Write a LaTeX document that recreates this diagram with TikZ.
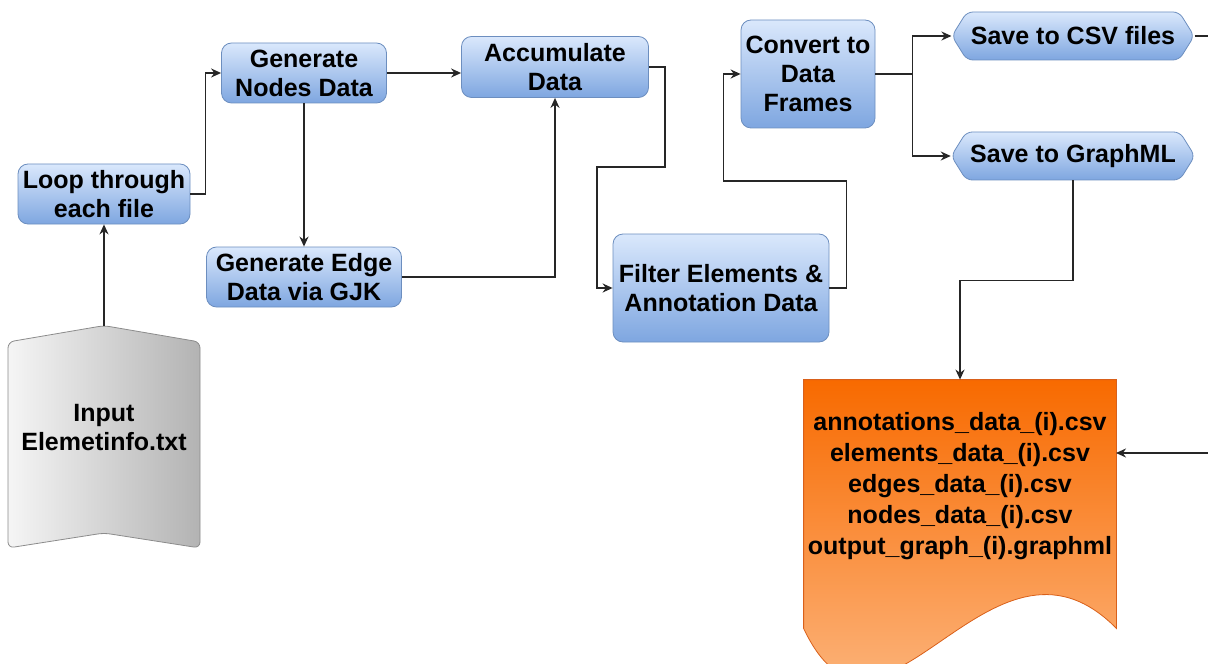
\documentclass[tikz,border=0pt]{standalone}
\usepackage{fontspec}
\setmainfont{Liberation Sans}
\usepackage{xcolor}
\usetikzlibrary{arrows.meta,shapes.symbols}
\definecolor{cBoxTop}{HTML}{DAE8FC}
\definecolor{cBoxBot}{HTML}{7EA6E0}
\definecolor{cBoxBorder}{HTML}{6C8EBF}
\definecolor{cInLeft}{HTML}{F5F5F5}
\definecolor{cInRight}{HTML}{B3B3B3}
\definecolor{cInBorder}{HTML}{8C8C8C}
\definecolor{cDocTop}{HTML}{F86A00}
\definecolor{cDocBot}{HTML}{FDCBA2}
\definecolor{cDocBorder}{HTML}{D9601A}

\begin{document}
\begin{tikzpicture}[
  x=0.5pt, y=-0.5pt,
  every node/.style={font=\bfseries\fontsize{12.5}{14.5}\selectfont},
  procbox/.style={draw=cBoxBorder, top color=cBoxTop, bottom color=cBoxBot, rounded corners=5pt,
               align=center, inner sep=0pt},
  savebox/.style={draw=cBoxBorder, top color=cBoxTop, bottom color=cBoxBot, rounded corners=3pt,
               shape=signal, signal to=west and east, signal pointer angle=116,
               minimum height=24pt, inner xsep=2pt, inner ysep=0pt, align=center},
  arr/.style={-{Stealth[length=5pt,width=4.5pt]}, line width=0.8pt, black!85},
]
  \useasboundingbox (0,0) rectangle (1208,663);

  \node[minimum width=96pt, minimum height=111pt, align=center] (inp) at (104,437) {};
  \shade[left color=cInLeft, right color=cInRight, draw=cInBorder, rounded corners=3pt]
    (8,342) -- (inp.north) -- (200,342) -- (200,548) -- (104,533) -- (8,548) -- cycle;
  \node[align=center] (inptxt) at (104,428) {Input\\Elemetinfo.txt};

  \node[procbox, minimum width=86pt, minimum height=30pt] (loop) at (104,194) {Loop through\\each file};
  \node[procbox, minimum width=82.5pt, minimum height=30pt] (gnodes) at (304,73) {Generate\\Nodes Data};
  \node[procbox, minimum width=97.5pt, minimum height=30pt] (gedge) at (304,277) {Generate Edge\\Data via GJK};
  \node[procbox, minimum width=93.5pt, minimum height=30.5pt] (accum) at (555,67) {Accumulate\\Data};
  \node[procbox, minimum width=108pt, minimum height=54pt] (filter) at (721,288) {Filter Elements \&\\Annotation Data};
  \node[procbox, minimum width=67pt, minimum height=54pt] (conv) at (808,74) {Convert to\\Data\\Frames};

  \node[savebox, minimum width=104pt] (csv) at (1073,36) {Save to CSV files};
  \node[savebox, minimum width=104pt] (gml) at (1073,156) {Save to GraphML};

  \node[minimum width=156pt, minimum height=124pt] (doc) at (960,504) {};
  \shade[top color=cDocTop, bottom color=cDocBot, draw=cDocBorder]
    (doc.north west) -- (doc.north east) -- (doc.south east)
    .. controls (990,500) and (880,790) .. (doc.south west) -- cycle;
  \node[align=center, font=\bfseries\fontsize{12.5}{15.5}\selectfont] (files) at (960,486)
    {annotations\_data\_(i).csv\\elements\_data\_(i).csv\\edges\_data\_(i).csv\\nodes\_data\_(i).csv\\output\_graph\_(i).graphml};
  \coordinate (docin) at (1116,453);

  \draw[arr] (inp.north) -- (loop.south);
  \draw[arr] (loop.east) -- ++(15,0) |- (gnodes.west);
  \draw[arr] (gnodes.east) -- (gnodes.east -| accum.west);
  \draw[arr] (gnodes.south) -- (gedge.north);
  \draw[arr] (gedge.east) -| (accum.south);
  \draw[arr] (accum.east) -- ++(16,0) -- ++(0,100) -- ++(-68,0) |- (filter.west);
  \draw[arr] (filter.east) -- ++(17,0) -- ++(0,-107) -- ++(-123,0) |- (conv.west);
  \draw[arr] (conv.east) -- ++(37,0) |- (csv.west);
  \draw[arr] (conv.east) -- ++(37,0) |- (gml.west);
  \draw[arr] (csv.east) -- ++(40,0) |- (docin);
  \draw[arr] (gml.south) -- ++(0,100) -| (doc.north);
\end{tikzpicture}
\end{document}
